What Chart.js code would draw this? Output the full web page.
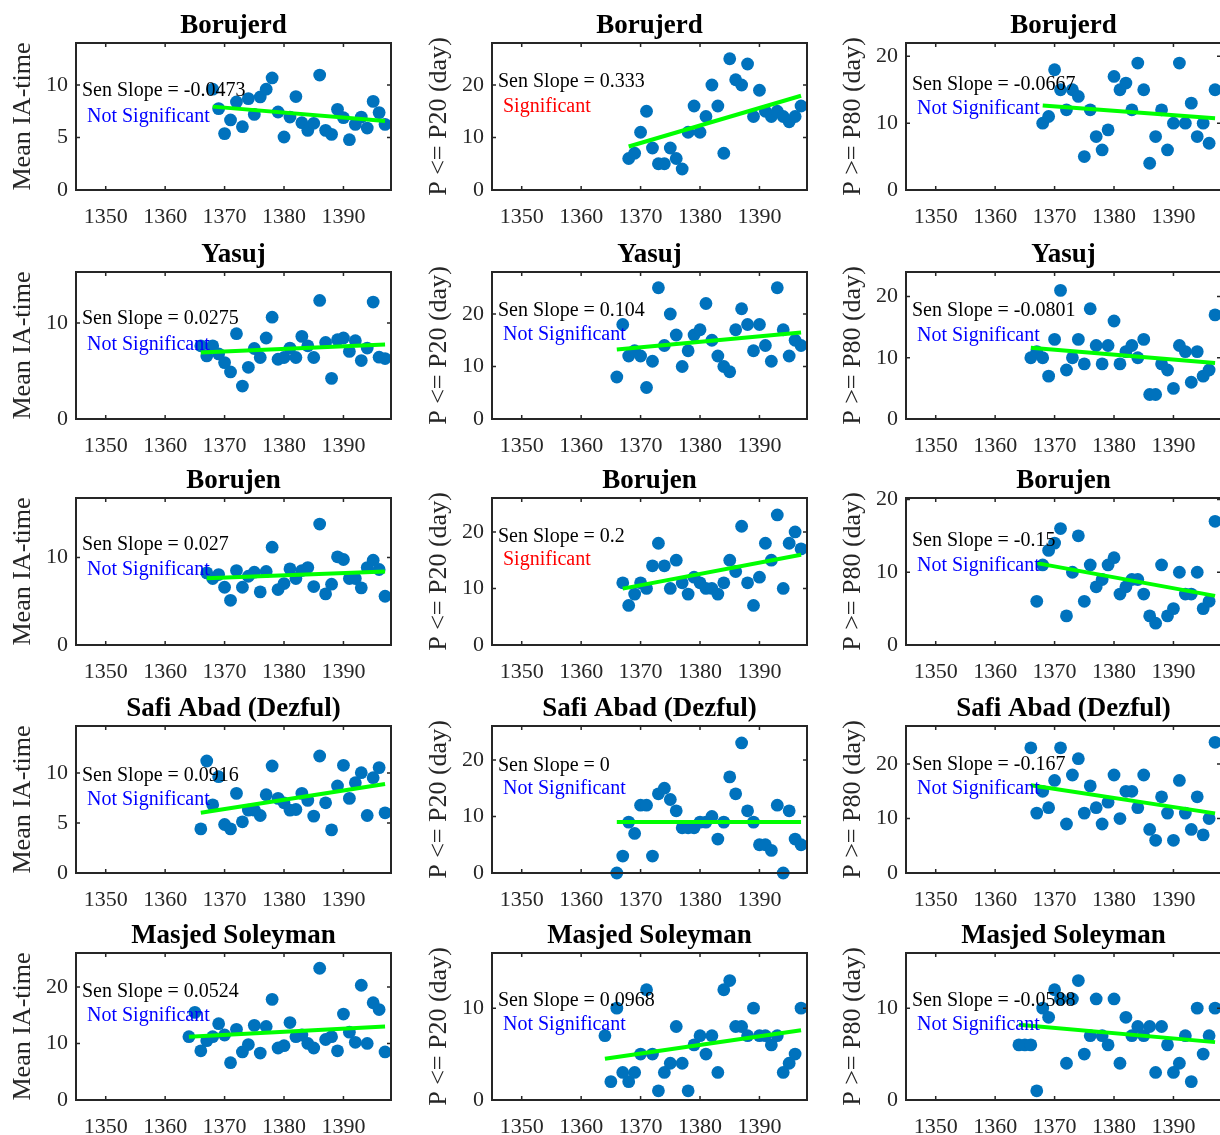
<!DOCTYPE html>
<html>
<head>
<meta charset="utf-8">
<script src="https://cdn.jsdelivr.net/npm/chart.js@4"></script>
<style>
html,body{margin:0;padding:0;background:#ffffff;overflow:hidden;width:1220px;height:1135px;position:relative}
canvas{position:absolute}
</style>
</head>
<body>
<script>
// ---------------- DATA ----------------
const xTickLabels = [1350, 1360, 1370, 1380, 1390];
const stationTitles = ['Borujerd', 'Yasuj', 'Borujen', 'Safi Abad (Dezful)', 'Masjed Soleyman'];
const yAxisTitles = ['Mean IA-time', 'P <= P20 (day)', 'P >= P80 (day)'];

const yearsBorujerd = [1368,1369,1370,1371,1372,1373,1374,1375,1376,1377,1378,1379,1380,1381,1382,1383,1384,1385,1386,1387,1388,1389,1390,1391,1392,1393,1394,1395,1396,1397];
const yearsYasuj = [1366,1367,1368,1369,1370,1371,1372,1373,1374,1375,1376,1377,1378,1379,1380,1381,1382,1383,1384,1385,1386,1387,1388,1389,1390,1391,1392,1393,1394,1395,1396,1397];
const yearsBorujen = [1367,1368,1369,1370,1371,1372,1373,1374,1375,1376,1377,1378,1379,1380,1381,1382,1383,1384,1385,1386,1387,1388,1389,1390,1391,1392,1393,1394,1395,1396,1397];
const yearsSafiAbad = [1366,1367,1368,1369,1370,1371,1372,1373,1374,1375,1376,1377,1378,1379,1380,1381,1382,1383,1384,1385,1386,1387,1388,1389,1390,1391,1392,1393,1394,1395,1396,1397];
const yearsMasjed = [1364,1365,1366,1367,1368,1369,1370,1371,1372,1373,1374,1375,1376,1377,1378,1379,1380,1381,1382,1383,1384,1385,1386,1387,1388,1389,1390,1391,1392,1393,1394,1395,1396,1397];

const borujerdMeanIA = [9.6,7.75,5.37,6.67,8.38,6.03,8.7,7.2,8.86,9.6,10.67,7.43,5.05,6.95,8.9,6.41,5.68,6.35,10.95,5.68,5.3,7.68,6.89,4.79,6.25,6.95,5.9,8.44,7.37,6.25];
const borujerdP20 = [6,7,11,15,8,5,5,8,6,4,11,16,11,14,20,16,7,25,21,20,24,14,19,15,14,15,14,13,14,16];
const borujerdP80 = [10,11,18,15,12,15,14,5,12,8,6,9,17,15,16,12,19,15,4,8,12,6,10,19,10,13,8,10,7,15];

const yasujMeanIA = [7.62,6.57,7.62,6.78,5.87,4.9,8.88,3.43,5.38,7.34,6.4,8.43,10.6,6.22,6.4,7.38,6.4,8.6,7.62,6.4,12.34,7.97,4.23,8.25,8.43,7.03,8.15,6.08,7.38,12.17,6.43,6.29];
const yasujP20 = [8,18,12,13,12,6,11,25,14,20,16,10,13,16,17,22,15,12,10,9,17,21,18,13,18,14,11,25,17,12,15,14];
const yasujP80 = [10,11,10,7,13,21,8,10,13,9,18,12,9,12,16,9,11,12,10,13,4,4,9,8,5,12,11,6,11,7,8,17];

const borujenMeanIA = [8.24,7.6,8.05,6.6,5.11,8.51,6.6,7.86,8.32,6.07,8.4,11.18,6.34,7.02,8.7,7.6,8.51,8.85,6.68,13.82,5.84,6.95,10.08,9.77,7.6,7.6,6.53,8.85,9.69,8.63,5.57];
const borujenP20 = [11,7,9,11,10,14,18,14,10,15,11,9,12,11,10,10,9,11,15,13,21,11,7,12,18,15,23,10,18,20,17];
const borujenP80 = [6,11,13,14,16,4,10,15,6,11,8,9,11,12,7,8,9,9,7,4,3,11,4,5,10,7,7,10,5,6,17];

const safiMeanIA = [4.41,11.2,6.82,9.63,4.85,4.41,7.96,5.12,6.29,6.29,5.75,7.83,10.7,7.46,7.02,6.29,6.35,7.96,7.26,5.69,11.7,7.02,4.31,8.7,10.77,7.46,9.03,10.03,5.75,9.53,10.54,6.02];
const safiP20 = [0,3,9,7,12,12,3,14,15,13,11,8,8,8,9,9,10,6,9,17,14,23,11,9,5,5,4,12,0,11,6,5];
const safiP80 = [23,11,15,12,17,23,9,18,21,11,16,12,9,13,18,10,15,15,12,18,8,6,14,11,6,17,11,8,14,7,10,24];

const masjedMeanIA = [11.2,15.5,8.7,10.5,11.2,13.5,11.5,6.6,12.5,8.5,9.8,13.2,8.3,13,17.8,9.2,9.6,13.7,11.2,11.5,10,9.2,23.3,10.7,11.2,8.7,15.2,12,10.2,20.3,10,17.2,16,8.5];
const masjedP20 = [7,2,10,3,2,3,5,12,5,1,3,4,8,4,1,6,7,5,7,3,12,13,8,8,7,10,7,7,6,7,3,4,5,10];
const masjedP80 = [6,6,6,1,10,9,12,11,4,11,13,5,7,11,7,6,11,4,9,7,8,7,8,3,8,6,3,4,7,2,10,5,7,10];

// Sen trend lines: [start year, start value], [end year, end value]
const trendBorujerd = [[[1368,7.94],[1397,6.57]], [[1368,8.28],[1397,17.96]], [[1368,12.63],[1397,10.73]]];
const trendYasuj = [[[1366,6.92],[1397,7.76]], [[1366,13.25],[1397,16.46]], [[1366,11.63],[1397,9.13]]];
const trendBorujen = [[[1367,7.63],[1397,8.4]], [[1367,9.97],[1397,15.97]], [[1367,11.25],[1397,6.75]]];
const trendSafiAbad = [[[1366,6.02],[1397,8.9]], [[1366,9],[1397,9]], [[1366,16.1],[1397,10.95]]];
const trendMasjed = [[[1364,11.2],[1397,13]], [[1364,4.5],[1397,7.6]], [[1364,8.2],[1397,6.3]]];

const senSlopes = [['-0.0473','0.333','-0.0667'], ['0.0275','0.104','-0.0801'], ['0.027','0.2','-0.15'], ['0.0916','0','-0.167'], ['0.0524','0.0968','-0.0588']];
const significant = [[false,true,false], [false,false,false], [false,true,false], [false,false,false], [false,false,false]];

const yTickValues = [
  [[0,5,10],[0,10,20],[0,10,20]],
  [[0,10],[0,10,20],[0,10,20]],
  [[0,10],[0,10,20],[0,10,20]],
  [[0,5,10],[0,10,20],[0,10,20]],
  [[0,10,20],[0,10],[0,10]]
];

// ---------------- LAYOUT ----------------
const yMaxes = [[14,28,22],[15.3,28,24],[16.8,26,20.2],[14.7,26,27],[26,16,16]];
const xMin = 1345, xMax = 1398;
const colPlotLeft = [76, 492, 906];
const rowPlotTop = [43, 272, 498, 726, 953];
const plotW = 315, plotH = 147;
const padL = 76, padT = 43, padR = 14, padB = 42;
// annotation offsets from plot top (Sen slope line, significance line)
const annotOffsets = [
  [[48,74],[39,63.3],[41.7,65.7]],
  [[46.6,72.3],[38.3,62.7],[39,64]],
  [[46.3,71.3],[38.6,62],[42.3,67.3]],
  [[50,73.3],[39.3,62.7],[38.3,62.7]],
  [[39,63],[48,72],[48,72]]
];

const rowYears = [yearsBorujerd, yearsYasuj, yearsBorujen, yearsSafiAbad, yearsMasjed];
const rowValues = [
  [borujerdMeanIA, borujerdP20, borujerdP80],
  [yasujMeanIA, yasujP20, yasujP80],
  [borujenMeanIA, borujenP20, borujenP80],
  [safiMeanIA, safiP20, safiP80],
  [masjedMeanIA, masjedP20, masjedP80]
];
const rowTrends = [trendBorujerd, trendYasuj, trendBorujen, trendSafiAbad, trendMasjed];

const FONT = '"Liberation Serif", "Times New Roman", serif';
const AXIS_COLOR = '#262626';

Chart.defaults.font.family = FONT;

function makePanel(r, c) {
  const canvas = document.createElement('canvas');
  const w = padL + plotW + padR, h = padT + plotH + padB;
  canvas.width = w; canvas.height = h;
  canvas.style.width = w + 'px'; canvas.style.height = h + 'px';
  canvas.style.left = (colPlotLeft[c] - padL) + 'px';
  canvas.style.top = (rowPlotTop[r] - padT) + 'px';
  document.body.appendChild(canvas);

  const years = rowYears[r];
  const vals = rowValues[r][c];
  const pts = years.map((y, i) => ({x: y, y: vals[i]}));
  const trend = rowTrends[r][c].map(p => ({x: p[0], y: p[1]}));
  const yt = yTickValues[r][c];
  const off = annotOffsets[r][c];
  const sig = significant[r][c];

  const decor = {
    id: 'decor' + r + c,
    afterDraw(chart) {
      const ctx = chart.ctx;
      const {left, top, right, bottom} = chart.chartArea;
      const xs = chart.scales.x, ys = chart.scales.y;
      ctx.save();
      // box
      ctx.strokeStyle = AXIS_COLOR;
      ctx.lineWidth = 2;
      ctx.strokeRect(left, top, right - left, bottom - top);
      // inward ticks
      ctx.lineWidth = 1.5;
      ctx.beginPath();
      xs.ticks.forEach(t => {
        const px = xs.getPixelForValue(t.value);
        ctx.moveTo(px, bottom); ctx.lineTo(px, bottom - 4);
        ctx.moveTo(px, top); ctx.lineTo(px, top + 4);
      });
      ys.ticks.forEach(t => {
        const py = ys.getPixelForValue(t.value);
        ctx.moveTo(left, py); ctx.lineTo(left + 4, py);
        ctx.moveTo(right, py); ctx.lineTo(right - 4, py);
      });
      ctx.stroke();
      // title
      ctx.fillStyle = '#000000';
      ctx.font = 'bold 27px ' + FONT;
      ctx.textAlign = 'center';
      ctx.textBaseline = 'middle';
      ctx.fillText(stationTitles[r], (left + right) / 2, top - 17);
      // y axis title
      ctx.save();
      ctx.translate(left - 53, (top + bottom) / 2);
      ctx.rotate(-Math.PI / 2);
      ctx.fillStyle = AXIS_COLOR;
      ctx.font = '26px ' + FONT;
      ctx.fillText(yAxisTitles[c], 0, 0);
      ctx.restore();
      // annotations
      ctx.textAlign = 'left';
      ctx.font = '20px ' + FONT;
      ctx.fillStyle = '#000000';
      ctx.fillText('Sen Slope = ' + senSlopes[r][c], left + 6, top + off[0]);
      ctx.fillStyle = sig ? '#ff0000' : '#0000ff';
      ctx.fillText(sig ? 'Significant' : 'Not Significant', left + 11, top + off[1]);
      ctx.restore();
    }
  };

  new Chart(canvas, {
    type: 'scatter',
    data: {
      datasets: [
        {type: 'line', data: trend, borderColor: '#00ff00', borderWidth: 4, pointRadius: 0, fill: false, order: 0, clip: false, tension: 0},
        {type: 'scatter', data: pts, backgroundColor: '#0072BD', borderWidth: 0, pointRadius: 6.4, pointHoverRadius: 6.4, order: 1, clip: false}
      ]
    },
    options: {
      responsive: false,
      animation: false,
      devicePixelRatio: 1,
      events: [],
      layout: {padding: {top: padT, right: padR, left: 0, bottom: 0}},
      plugins: {legend: {display: false}, tooltip: {enabled: false}, title: {display: false}},
      scales: {
        x: {
          type: 'linear', position: 'bottom', min: xMin, max: xMax,
          grid: {display: false, drawTicks: false, tickLength: 0}, border: {display: false},
          afterBuildTicks: s => { s.ticks = xTickLabels.map(v => ({value: v})); },
          afterFit: s => { s.height = padB; },
          ticks: {font: {size: 22, family: FONT}, color: AXIS_COLOR, padding: 14, maxRotation: 0, autoSkip: false,
                  callback: v => String(v)}
        },
        y: {
          type: 'linear', position: 'left', min: 0, max: yMaxes[r][c],
          grid: {display: false, drawTicks: false, tickLength: 0}, border: {display: false},
          afterBuildTicks: s => { s.ticks = yt.map(v => ({value: v})); },
          afterFit: s => { s.width = padL; },
          ticks: {font: {size: 22, family: FONT}, color: AXIS_COLOR, padding: 8, autoSkip: false,
                  callback: v => String(v)}
        }
      }
    },
    plugins: [decor]
  });
}

for (let r = 0; r < 5; r++) {
  for (let c = 0; c < 3; c++) makePanel(r, c);
}
</script>
</body>
</html>
